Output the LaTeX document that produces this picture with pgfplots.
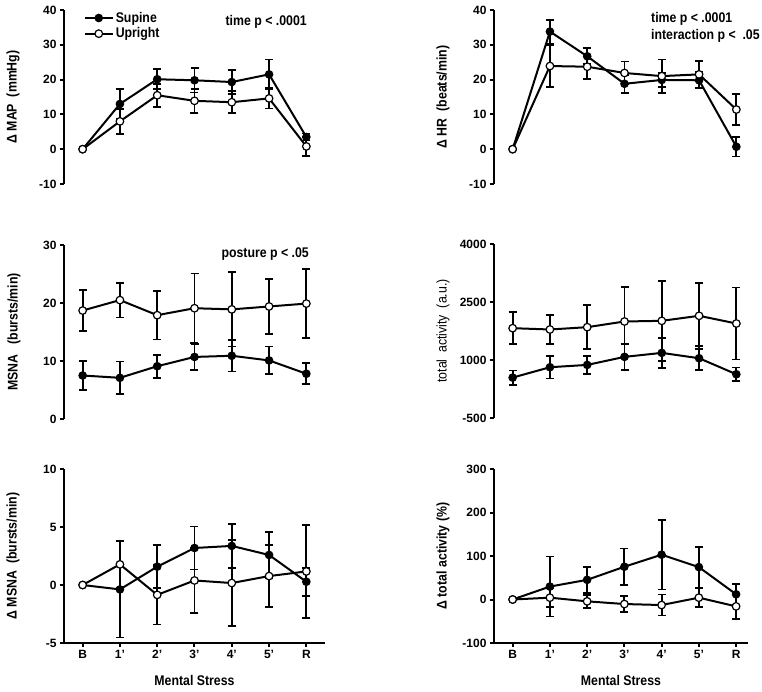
\documentclass[border=0pt]{standalone}
\usepackage{pgfplots}
\pgfplotsset{compat=1.18}
\usepackage{fontspec}
\setmainfont{Liberation Sans}
\newfontfamily\labfont{Liberation Sans}[FakeStretch=0.88]
\newcommand\lf{\labfont\bfseries\fontsize{14}{16}\selectfont}
\newcommand\lfr{\labfont\fontsize{14}{16}\selectfont}
\newcommand\tf{\bfseries\fontsize{12}{14}\selectfont}

\pgfplotsset{
  panel/.style={scale only axis, width=261pt, height=174pt, clip=false,
    xmin=-0.5, xmax=6.5, axis y line=left,
    /pgf/number format/assume math mode=true,
    tick label style={font=\tf}},
  lw/.style={axis line style={line width=2.5pt,-},
    tick align=outside, major tick length=4pt,
    every tick/.append style={line width=2pt, black}},
  toppanel/.style={panel, axis x line=none, xtick=\empty, lw},
  botpanel/.style={panel, axis x line=bottom, xtick={0,...,6}, xticklabels={B,1',2',3',4',5',R}, lw},
  sup/.style={black, line width=2pt, mark=*, mark size=3.8pt,
    mark options={fill=black, draw=black, line width=1pt},
    error bars/.cd, y dir=both, y explicit, error mark=-,
    error bar style={line width=1.8pt, black},
    error mark options={rotate=90, line width=1.8pt, mark size=4pt, black}},
  upr/.style={black, line width=2pt, mark=*, mark size=3.8pt,
    mark options={fill=white, draw=black, line width=1.2pt},
    error bars/.cd, y dir=both, y explicit, error mark=-,
    error bar style={line width=1.8pt, black},
    error mark options={rotate=90, line width=1.8pt, mark size=4pt, black}},
}

\begin{document}
\begin{tikzpicture}
\path[use as bounding box] (0,0) rectangle (762pt,691pt);

% ---- Top left: MAP
\begin{axis}[toppanel, at={(64pt,507pt)}, anchor=south west,
  ymin=-10, ymax=40, ytick={-10,0,10,20,30,40},
  legend style={draw=none, fill=none, at={(rel axis cs:0.075,1.0)}, anchor=north west, font=\lf, inner sep=0pt},
  legend cell align=left,
  legend image code/.code={\draw[mark repeat=2,mark phase=2,#1] plot coordinates {(0pt,0pt) (14pt,0pt) (28pt,0pt)};}]
\addplot[sup] coordinates {(0,0) +- (0,0) (1,13) +- (0,4.3) (2,20.1) +- (0,2.9) (3,19.8) +- (0,3.5) (4,19.3) +- (0,3.4) (5,21.5) +- (0,4.3) (6,3.5) +- (0,1)};
\addlegendentry{Supine}
\addplot[upr] coordinates {(0,0) +- (0,0) (1,8.0) +- (0,3.6) (2,15.5) +- (0,3.3) (3,13.9) +- (0,3.4) (4,13.5) +- (0,3.2) (5,14.6) +- (0,2.9) (6,0.8) +- (0,2.7)};
\addlegendentry{Upright}
\node[anchor=west, font=\lf] at (axis cs:3.74,36.5) {time p < .0001};
\node[rotate=90, font=\lf] at ([xshift=-51pt]rel axis cs:0,0.5) {Δ MAP\ \ (mmHg)};
\end{axis}

% ---- Top right: HR
\begin{axis}[toppanel, at={(494pt,507pt)}, anchor=south west,
  ymin=-10, ymax=40, ytick={-10,0,10,20,30,40}]
\addplot[sup] coordinates {(0,0) +- (0,0) (1,33.8) +- (0,3.4) (2,26.7) +- (0,2.3) (3,18.8) +- (0,2.6) (4,19.9) +- (0,2.0) (5,19.8) +- (0,2.3) (6,0.7) +- (0,2.8)};
\addplot[upr] coordinates {(0,0) +- (0,0) (1,23.9) +- (0,6.1) (2,23.7) +- (0,3.5) (3,21.9) +- (0,3.3) (4,21.0) +- (0,4.8) (5,21.5) +- (0,3.8) (6,11.4) +- (0,4.4)};
\node[anchor=west, font=\lf] at (axis cs:3.62,37.4) {time p < .0001};
\node[anchor=west, font=\lf] at (axis cs:3.62,32.5) {interaction p <\ \ .05};
\node[rotate=90, font=\lf] at ([xshift=-51pt]rel axis cs:0,0.5) {Δ HR\ \ (beats/min)};
\end{axis}

% ---- Middle left: MSNA
\begin{axis}[toppanel, at={(64pt,272pt)}, anchor=south west,
  ymin=0, ymax=30, ytick={0,10,20,30}]
\addplot[sup] coordinates {(0,7.5) +- (0,2.5) (1,7.1) +- (0,2.8) (2,9.1) +- (0,2.0) (3,10.7) +- (0,2.2) (4,10.9) +- (0,2.7) (5,10.1) +- (0,2.4) (6,7.8) +- (0,1.8)};
\addplot[upr] coordinates {(0,18.7) +- (0,3.5) (1,20.5) +- (0,3.0) (2,17.9) +- (0,4.2) (3,19.1) +- (0,6.0) (4,18.9) +- (0,6.4) (5,19.4) +- (0,4.7) (6,19.9) +- (0,6.0)};
\node[anchor=west, font=\lf] at (axis cs:3.63,28.45) {posture p < .05};
\node[rotate=90, font=\lf] at ([xshift=-50pt]rel axis cs:0,0.5) {MSNA\ \ \ (bursts/min)};
\end{axis}

% ---- Middle right: total activity
\begin{axis}[toppanel, at={(494pt,273pt)}, anchor=south west,
  ymin=-500, ymax=4000, ytick={-500,1000,2500,4000}, yticklabels={-500,1000,2500,4000}]
\addplot[sup] coordinates {(0,545) +- (0,185) (1,813) +- (0,290) (2,873) +- (0,230) (3,1081) +- (0,330) (4,1184) +- (0,390) (5,1046) +- (0,310) (6,631) +- (0,175)};
\addplot[upr] coordinates {(0,1823) +- (0,415) (1,1789) +- (0,365) (2,1849) +- (0,570) (3,1996) +- (0,900) (4,2013) +- (0,1037) (5,2143) +- (0,857) (6,1944) +- (0,930)};
\node[rotate=90, font=\lfr] at ([xshift=-51pt]rel axis cs:0,0.5) {total\ \ activity\ \ (a.u.)};
\end{axis}

% ---- Bottom left: delta MSNA
\begin{axis}[botpanel, at={(64pt,48pt)}, anchor=south west,
  ymin=-5, ymax=10, ytick={-5,0,5,10}, yticklabels={-5,0,5,10}]
\addplot[sup] coordinates {(0,0) +- (0,0) (1,-0.38) +- (0,4.15) (2,1.58) +- (0,1.85) (3,3.19) +- (0,1.85) (4,3.37) +- (0,1.9) (5,2.59) +- (0,2.0) (6,0.28) +- (0,1.2)};
\addplot[upr] coordinates {(0,0) +- (0,0) (1,1.78) +- (0,2.0) (2,-0.85) +- (0,2.55) (3,0.39) +- (0,2.8) (4,0.17) +- (0,3.7) (5,0.77) +- (0,2.65) (6,1.17) +- (0,4.0)};
\node[rotate=90, font=\lf] at ([xshift=-51pt]rel axis cs:0,0.5) {Δ MSNA\ \ (bursts/min)};
\node[font=\lf] at ([yshift=-37pt]rel axis cs:0.5,0) {Mental Stress};
\end{axis}

% ---- Bottom right: delta total activity
\begin{axis}[botpanel, at={(494pt,48pt)}, anchor=south west, width=254pt, xmax=6.32,
  ymin=-100, ymax=300, ytick={-100,0,100,200,300}, yticklabels={-100,0,100,200,300}]
\addplot[sup] coordinates {(0,0) +- (0,0) (1,29.7) +- (0,69) (2,45.2) +- (0,30) (3,75.3) +- (0,42) (4,103) +- (0,80) (5,74.5) +- (0,47) (6,12) +- (0,24)};
\addplot[upr] coordinates {(0,0) +- (0,0) (1,4.2) +- (0,21) (2,-4.2) +- (0,15) (3,-10.4) +- (0,19) (4,-12.7) +- (0,24) (5,4.2) +- (0,21) (6,-15.8) +- (0,29)};
\node[rotate=90, font=\lf] at ([xshift=-51pt]rel axis cs:0,0.5) {Δ total activity (\%)};
\node[font=\lf] at ([yshift=-37pt]rel axis cs:0.5,0) {Mental Stress};
\end{axis}
\end{tikzpicture}
\end{document}
